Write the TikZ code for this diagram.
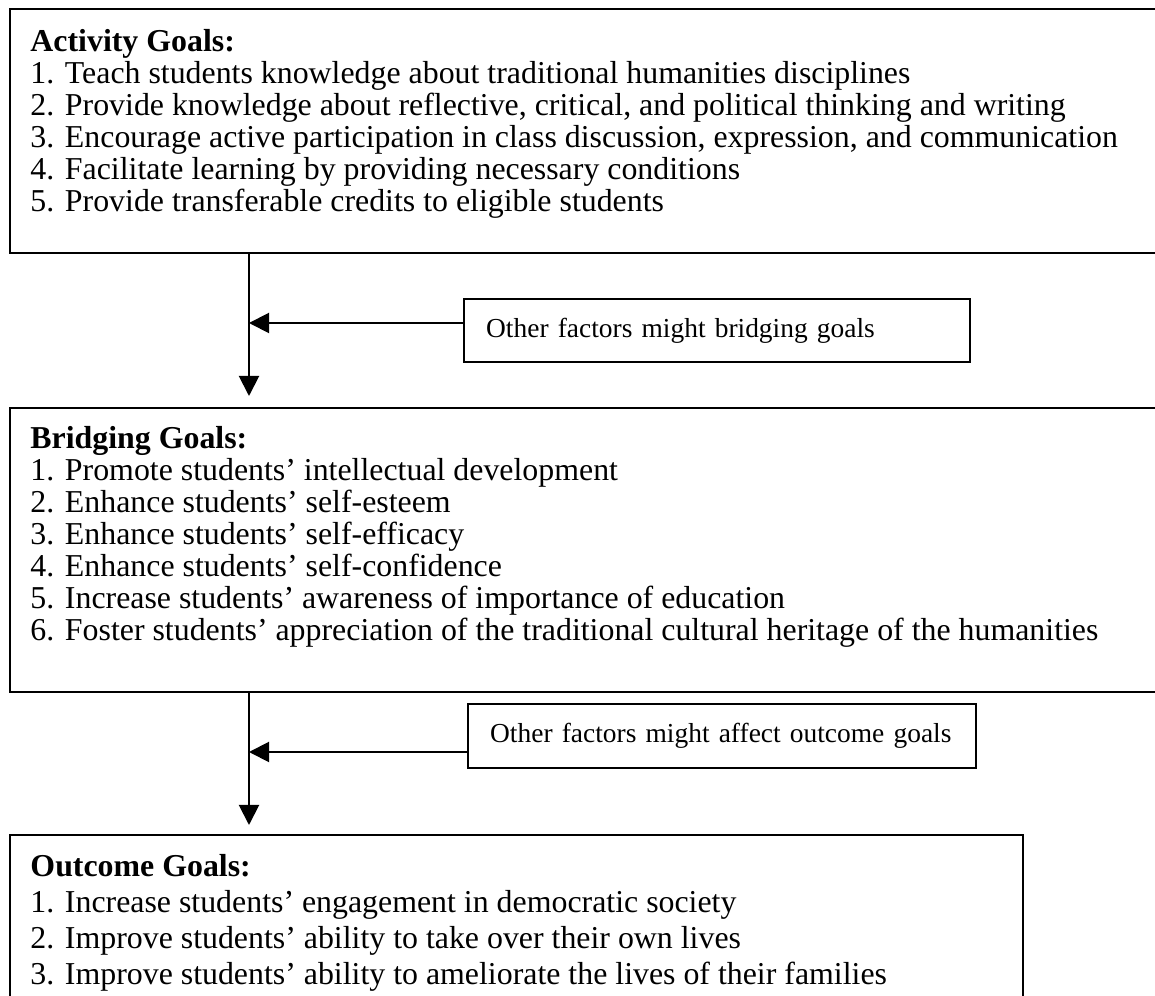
\documentclass[tikz,border=0pt]{standalone}
\usepackage{fontspec}
\setmainfont{Liberation Serif}
\usetikzlibrary{arrows.meta}

\newcommand\pxu{0.43pt}
\tikzstyle{box}=[rectangle,draw,line width=1pt,inner sep=0pt,anchor=north west]
\tikzstyle{goals}=[anchor=north west,align=left,inner sep=0pt]
\tikzstyle{note}=[box,align=left,inner xsep=22*\pxu,font=\fontsize{11.8}{13}\selectfont]
\tikzstyle{flow}=[line width=0.85pt,-{Triangle[length=8.6pt,width=8.6pt]}]

\begin{document}
\begin{tikzpicture}[x=\pxu,y=-\pxu,font=\fontsize{13.7}{13.76}\selectfont]
  \useasboundingbox (0,0) rectangle (1155,996);

  % goal boxes (the upper two run past the right edge)
  \node[box,minimum width=1165*\pxu,minimum height=244*\pxu] (activity) at (9,8) {};
  \node[goals] (activitytext) at (30,29) {\textbf{Activity Goals:}\\
    1. Teach students knowledge about traditional humanities disciplines\\
    2. Provide knowledge about reflective, critical, and political thinking and writing\\
    3. Encourage active participation in class discussion, expression, and communication\\
    4. Facilitate learning by providing necessary conditions\\
    5. Provide transferable credits to eligible students};

  \node[box,minimum width=1165*\pxu,minimum height=284*\pxu] (bridging) at (9,407) {};
  \node[goals] (bridgingtext) at (30,426) {\textbf{Bridging Goals:}\\
    1. Promote students’ intellectual development\\
    2. Enhance students’ self-esteem\\
    3. Enhance students’ self-efficacy\\
    4. Enhance students’ self-confidence\\
    5. Increase students’ awareness of importance of education\\
    6. Foster students’ appreciation of the traditional cultural heritage of the humanities};

  \node[box,minimum width=1013*\pxu,minimum height=200*\pxu] (outcome) at (9,834) {};
  \node[goals,font=\fontsize{13.7}{15.5}\selectfont] (outcometext) at (30,854) {\textbf{Outcome Goals:}\\
    1. Increase students’ engagement in democratic society\\
    2. Improve students’ ability to take over their own lives\\
    3. Improve students’ ability to ameliorate the lives of their families};

  % side notes
  \node[note,text width=462*\pxu,minimum height=63*\pxu] (note1) at (463,298) {Other factors might bridging goals};
  \node[note,text width=464*\pxu,minimum height=64*\pxu] (note2) at (467,703) {Other factors might affect outcome goals};

  % arrows
  \coordinate (join1) at (249,323);
  \coordinate (join2) at (249,752);
  \draw[flow,shorten >=11*\pxu] (join1 |- activity.south) -- (join1 |- bridging.north);
  \draw[flow] (join1 -| note1.west) -- (join1);
  \draw[flow,shorten >=9*\pxu] (join2 |- bridging.south) -- (join2 |- outcome.north);
  \draw[flow] (join2 -| note2.west) -- (join2);
\end{tikzpicture}
\end{document}
